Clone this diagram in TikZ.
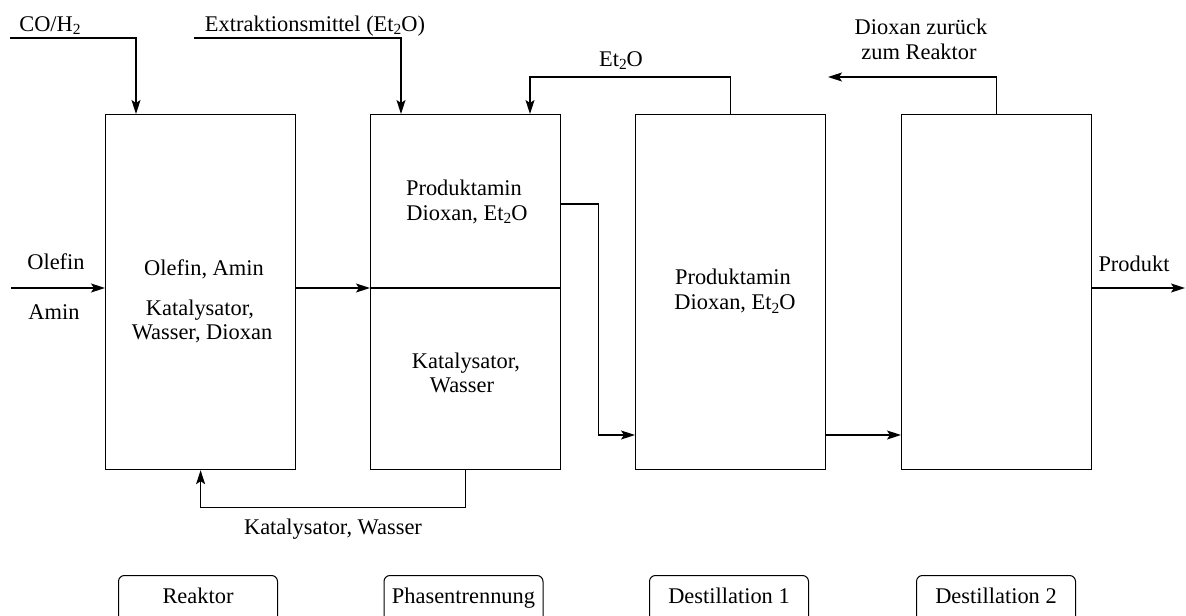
\documentclass[tikz,border=0pt]{standalone}
\usepackage{fontspec}
\setmainfont{Liberation Serif}
\usetikzlibrary{arrows.meta,calc}
\newcommand{\mysub}[1]{\raisebox{-0.32ex}{\fontsize{15.5}{15.5}\selectfont #1}}
\begin{document}
\begin{tikzpicture}[x=1bp,y=-1bp,
  every node/.style={font=\fontsize{22.5}{24.5}\selectfont, inner sep=0pt},
  unit/.style={draw, line width=1.2bp, minimum width=190bp, minimum height=355bp, anchor=north west},
  lbl/.style={anchor=base},
  ln/.style={line width=1.2bp},
  arr/.style={line width=1.2bp, -{Stealth[length=14bp,width=9bp,inset=3bp]}},
  tag/.style={draw, line width=1bp, rounded corners=6bp, minimum width=159bp, text height=15bp, text depth=30bp, inner ysep=13bp, anchor=north}]
\useasboundingbox (0,0) rectangle (1186,616);
% units
\node[unit] (reak) at (105,114) {};
\node[unit] (phase) at (370,114) {};
\node[unit] (d1) at (635,114) {};
\node[unit] (d2) at (901,114) {};
% free ends
\coordinate (co) at (10,38);
\coordinate (ex) at (194,38);
\coordinate (oin) at (11,288);
\coordinate (pout) at (1185,288);
\coordinate (dxend) at (828,77);
% connectors
\draw[arr] (co) -| ($(reak.north west)+(31,0)$);
\draw[arr] (ex) -| ($(phase.north west)+(31,0)$);
\draw[arr] (d1.north) -- ++(0,-37) -| ($(phase.north west)+(160,0)$);
\draw[arr] (d2.north) |- (dxend);
\draw[arr] (oin) -- (oin -| reak.west);
\draw[arr] (oin -| reak.east) -- (oin -| phase.west);
\draw[ln] (oin -| phase.west) -- (oin -| phase.east);
\draw[arr] ($(phase.north east)+(0,90)$) -- ++(37,0) |- ($(d1.north west)+(0,321)$);
\draw[arr] ($(d1.north east)+(0,321)$) -- ($(d2.north west)+(0,321)$);
\draw[arr] (oin -| d2.east) -- (pout);
\draw[arr] (phase.south) -- ++(0,37) -| (reak.south);
% labels
\node[lbl] (tco) at (50,31.5) {CO/H\mysub{2}};
\node[lbl] (tex) at (315,31.5) {Extraktionsmittel (Et\mysub{2}O)};
\node[lbl] (tet) at (621,66.5) {Et\mysub{2}O};
\node[lbl] (tdx1) at (921,34.5) {Dioxan zurück};
\node[lbl] (tdx2) at (919,59.5) {zum Reaktor};
\node[lbl] (tol) at (56,270) {Olefin};
\node[lbl] (tam) at (54,320) {Amin};
\node[lbl] (r1) at (204,276) {Olefin, Amin};
\node[lbl] (r2) at (200,316) {Katalysator,};
\node[lbl] (r3) at (202,340) {Wasser, Dioxan};
\node[lbl] (p1) at (464,195.5) {Produktamin};
\node[lbl] (p2) at (467,220.5) {Dioxan, Et\mysub{2}O};
\node[lbl] (p3) at (466,368) {Katalysator,};
\node[lbl] (p4) at (462,392) {Wasser};
\node[lbl] (q1) at (733,285) {Produktamin};
\node[lbl] (q2) at (735,310) {Dioxan, Et\mysub{2}O};
\node[lbl] (tkw) at (333,534) {Katalysator, Wasser};
\node[lbl] (tpr) at (1134,272) {Produkt};
% tags
\node[tag] (treak) at (198,575) {Reaktor};
\node[tag] (tphase) at (463.5,575) {Phasentrennung};
\node[tag] (td1) at (729,575) {Destillation 1};
\node[tag] (td2) at (996,575) {Destillation 2};
\end{tikzpicture}
\end{document}
